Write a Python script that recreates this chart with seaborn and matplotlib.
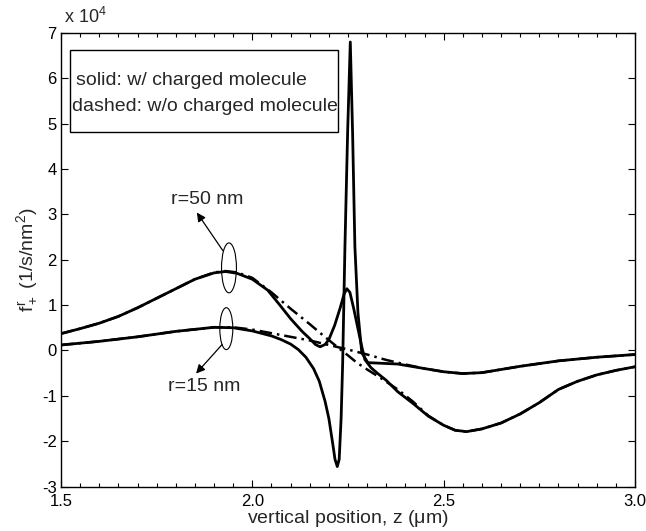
import numpy as np
import seaborn as sns
import matplotlib.pyplot as plt
import matplotlib.ticker as mticker
from matplotlib.patches import Ellipse, Rectangle

# values in units of 10^4 (1/s/nm^2)
z_15_solid = [1.50, 1.60, 1.70, 1.80, 1.90, 1.95, 2.00, 2.05, 2.075, 2.10, 2.12,
              2.14, 2.16, 2.175, 2.19, 2.20, 2.21, 2.216, 2.222, 2.227, 2.232,
              2.236, 2.242, 2.249, 2.256, 2.262, 2.268, 2.276, 2.286, 2.302, 2.33,
              2.38, 2.45, 2.50, 2.55, 2.60, 2.70, 2.80, 2.90, 3.00]
f_15_solid = [0.12, 0.20, 0.30, 0.42, 0.51, 0.50, 0.43, 0.32, 0.24, 0.14, 0.02,
              -0.15, -0.40, -0.68, -1.12, -1.50, -2.05, -2.40, -2.56, -2.40, -1.50,
              -0.30, 2.29, 4.80, 6.80, 4.80, 2.29, 0.83, -0.05, -0.27, -0.28,
              -0.30, -0.40, -0.47, -0.51, -0.49, -0.35, -0.23, -0.15, -0.09]

z_15_dashed = [1.50, 1.60, 1.70, 1.80, 1.90, 1.95, 2.00, 2.05, 2.10, 2.15, 2.20,
               2.25, 2.30, 2.35, 2.40, 2.45, 2.50, 2.55, 2.60, 2.70, 2.80, 2.90, 3.00]
f_15_dashed = [0.12, 0.20, 0.30, 0.42, 0.51, 0.51, 0.46, 0.38, 0.30, 0.22, 0.12,
               0.02, -0.09, -0.21, -0.31, -0.40, -0.47, -0.51, -0.49, -0.35, -0.23,
               -0.15, -0.09]

z_50_solid = [1.50, 1.55, 1.60, 1.65, 1.70, 1.75, 1.80, 1.85, 1.90, 1.93, 1.96,
              2.00, 2.04, 2.07, 2.10, 2.13, 2.15, 2.165, 2.177, 2.19, 2.20, 2.215,
              2.23, 2.24, 2.247, 2.255, 2.265, 2.275, 2.285, 2.294, 2.31, 2.325,
              2.35, 2.38, 2.42, 2.46, 2.50, 2.53, 2.56, 2.60, 2.65, 2.70, 2.75,
              2.80, 2.85, 2.90, 2.95, 3.00]
f_50_solid = [0.37, 0.48, 0.60, 0.75, 0.94, 1.15, 1.36, 1.57, 1.71, 1.74, 1.70,
              1.57, 1.33, 1.02, 0.70, 0.42, 0.26, 0.13, 0.08, 0.13, 0.24, 0.55,
              0.95, 1.25, 1.36, 1.28, 0.92, 0.52, 0.12, -0.20, -0.38, -0.49,
              -0.66, -0.91, -1.17, -1.45, -1.65, -1.76, -1.79, -1.73, -1.60, -1.40,
              -1.15, -0.86, -0.68, -0.54, -0.44, -0.36]

z_50_dashed = [1.50, 1.55, 1.60, 1.65, 1.70, 1.75, 1.80, 1.85, 1.90, 1.93, 1.96,
               2.00, 2.05, 2.10, 2.15, 2.185, 2.22, 2.25, 2.273, 2.30, 2.334, 2.38,
               2.42, 2.46, 2.50, 2.53, 2.56, 2.60, 2.65, 2.70, 2.75, 2.80, 2.85,
               2.90, 2.95, 3.00]
f_50_dashed = [0.37, 0.48, 0.60, 0.75, 0.94, 1.15, 1.36, 1.57, 1.72, 1.75, 1.72,
               1.60, 1.28, 0.92, 0.58, 0.33, 0.09, -0.11, -0.27, -0.42, -0.60, -0.86,
               -1.13, -1.44, -1.65, -1.76, -1.79, -1.73, -1.60, -1.40, -1.15, -0.86,
               -0.68, -0.54, -0.44, -0.36]

x_ticks = [1.5, 2.0, 2.5, 3.0]
y_ticks = list(range(-3, 8))

sns.set_style("ticks")
plt.rcParams['font.family'] = ['Liberation Sans', 'DejaVu Sans']
plt.rcParams['mathtext.fontset'] = 'custom'
plt.rcParams['mathtext.rm'] = 'Liberation Sans'
plt.rcParams['mathtext.it'] = 'Liberation Sans'
plt.rcParams['axes.unicode_minus'] = False

fig = plt.figure(figsize=(6.46, 5.31), dpi=100)
ax = fig.add_axes([0.0944, 0.0838, 0.8886, 0.8542])

dashdot = (0, (5, 2, 1, 2))
sns.lineplot(x=z_15_solid, y=f_15_solid, color='black', lw=2, ax=ax)
sns.lineplot(x=z_50_solid, y=f_50_solid, color='black', lw=2, ax=ax)
sns.lineplot(x=z_15_dashed, y=f_15_dashed, color='black', lw=1.8, linestyle=dashdot, ax=ax)
sns.lineplot(x=z_50_dashed, y=f_50_dashed, color='black', lw=1.8, linestyle=dashdot, ax=ax)

ax.set_xlim(1.5, 3.0)
ax.set_ylim(-3, 7)
ax.set_xticks(x_ticks)
ax.xaxis.set_minor_locator(mticker.MultipleLocator(0.05))
ax.xaxis.set_major_formatter(mticker.FormatStrFormatter('%.1f'))
ax.set_yticks(y_ticks)
ax.tick_params(which='both', direction='in', top=True, right=True, labelsize=12,
               width=0.8, color='black', labelcolor='black')
ax.tick_params(which='major', length=5)
ax.tick_params(which='minor', length=3)
ax.tick_params(axis='x', which='major', pad=5.5)
ax.tick_params(axis='y', which='major', pad=3)
for s in ax.spines.values():
    s.set_linewidth(1)
    s.set_color('black')

ax.set_xlabel(r"vertical position, z ($\mathregular{\mu}$m)", fontsize=14, labelpad=-1)
ax.set_ylabel(r"$f_+^r$ (1/s/nm$^2$)", fontsize=14, labelpad=2)
ax.text(0.005, 1.012, r"x 10$^4$", transform=ax.transAxes, fontsize=13, va='bottom')

# text box in upper left
ax.add_patch(Rectangle((0.016, 0.782), 0.467, 0.18, transform=ax.transAxes,
                       fill=False, lw=1, ec='black'))
ax.text(0.026, 0.896, "solid: w/ charged molecule", transform=ax.transAxes,
        fontsize=14, va='center')
ax.text(0.019, 0.837, "dashed: w/o charged molecule", transform=ax.transAxes,
        fontsize=14, va='center')

# ellipses and arrows
ax.add_patch(Ellipse((1.939, 1.82), 0.039, 1.1, fill=False, lw=0.8, ec='black'))
ax.add_patch(Ellipse((1.932, 0.48), 0.034, 0.925, fill=False, lw=0.8, ec='black'))
arrow = dict(arrowstyle='-|>', lw=0.9, color='black', mutation_scale=13,
             shrinkA=0, shrinkB=0)
ax.annotate("", xy=(1.855, 3.04), xytext=(1.923, 2.20), arrowprops=arrow)
ax.annotate("", xy=(1.853, -0.51), xytext=(1.921, 0.13), arrowprops=arrow)
ax.text(1.881, 3.32, "r=50 nm", fontsize=14, ha='center', va='center')
ax.text(1.874, -0.80, "r=15 nm", fontsize=14, ha='center', va='center')

plt.savefig("out.png", dpi=100)
